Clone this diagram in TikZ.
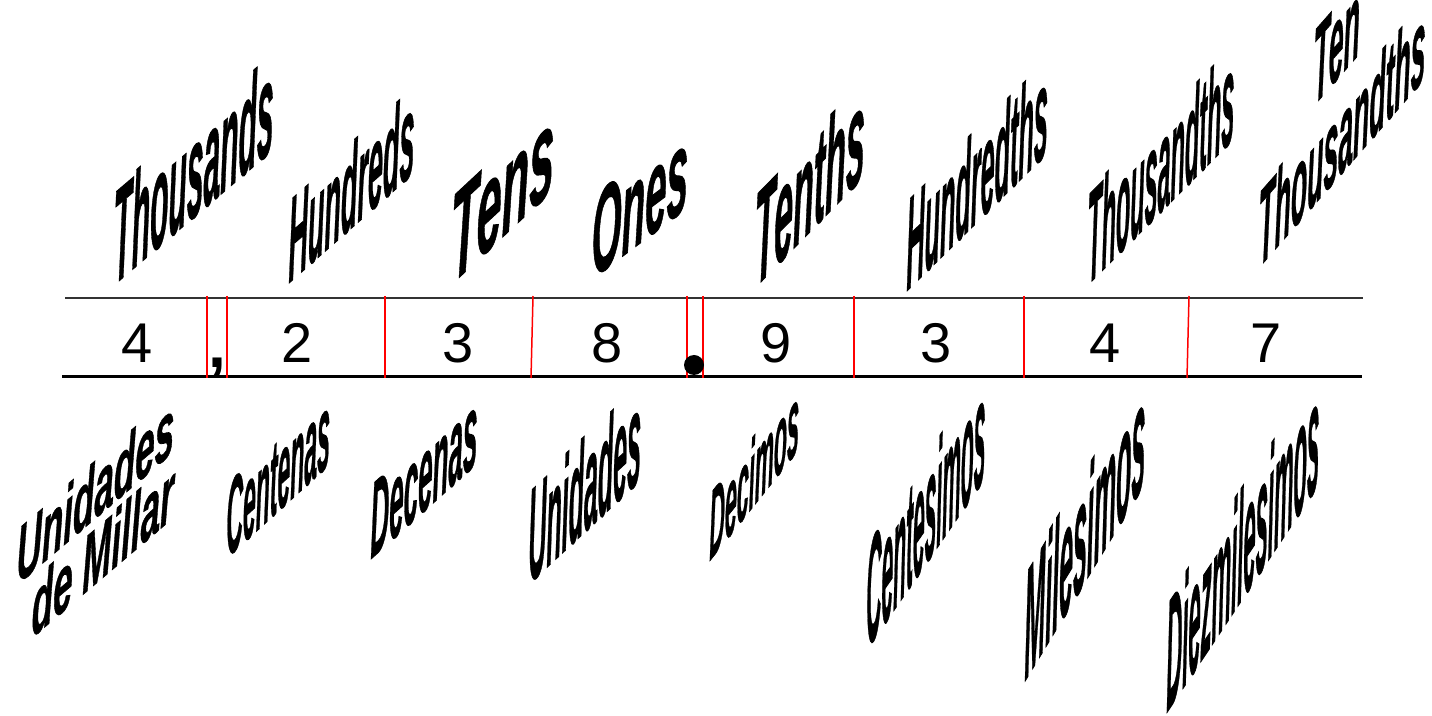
\documentclass[tikz,border=0pt]{standalone}
\usepackage{fontspec}
\setmainfont{Liberation Sans}
\newfontfamily\wordfont[FakeBold=1]{Liberation Sans}

\begin{document}
\begin{tikzpicture}[x=1pt,y=1pt,digit/.style={font=\fontsize{56}{60}\selectfont, inner sep=0pt, anchor=base},place/.style={font=\fontsize{10}{12}\wordfont\bfseries\itshape, inner sep=0pt, anchor=base west, transform shape},divider/.style={red, line width=1.5pt}]
\newcommand{\word}[6]{\begin{scope}[shift={#1},yslant=#2,xscale=#3,yscale=#4]\node[place] (#5) at (0,0) {#6};\end{scope}}
\useasboundingbox (0,0) rectangle (1432,715);
\draw[black!80, line width=1.3pt] (65,417) -- (1363,417);
\draw[line width=3pt] (62,338) -- (1362,338);
\foreach \x in {207,227,385,687,703,854,1024}\draw[divider] (\x,419) -- (\x,337);
\draw[divider] (533,419) -- (531,337);
\draw[divider] (1189,419) -- (1187,337);
\foreach \d/\x [count=\i] in {4/137,2/297,3/458,8/607,9/776,3/936,4/1105,7/1266}\node[digit] (d\i) at (\x,352) {\d};
\node[font=\fontsize{64}{64}\selectfont\bfseries, inner sep=0pt, anchor=base] (comma) at (217,347) {,};
\fill (694,350) circle (10) coordinate (point);
\word{(113,429)}{0.85}{3.0}{13.3}{thousands}{Thousands}
\word{(288,431)}{0.88}{2.7}{11.9}{hundreds}{Hundreds}
\word{(450,429)}{0.93}{4.5}{12.6}{tens}{Tens}
\word{(591,435)}{0.75}{3.85}{11.9}{ones}{Ones}
\word{(754,426)}{1.02}{3.4}{13.3}{tenths}{Tenths}
\word{(906,423)}{0.98}{2.52}{13}{hundredths}{Hundredths}
\word{(1087,429)}{1.0}{2.34}{13}{thousandths}{Thousandths}
\begin{scope}[shift={(1258,446)},yslant=1.14,xscale=2.66,yscale=10.8]
\node[place] (tenthousandths) at (0,0) {Thousandths};
\node[place, anchor=base] (ten) at (29.6,9.2) {Ten};
\end{scope}
\begin{scope}[shift={(16,129)},yslant=0.85,xscale=3.5,yscale=8]
\node[place] (unidadesmil) at (0,0) {Unidades};
\node[place, anchor=base] (demillar) at (24.8,-8.2) {de Millar};
\end{scope}
\word{(226,156)}{0.91}{2.3}{10.7}{centenas}{Centenas}
\word{(370,155)}{0.9}{2.6}{10.7}{decenas}{Decenas}
\word{(528,130)}{0.93}{2.5}{13.3}{unidades}{Unidades}
\word{(709,153)}{1.25}{2.15}{9.7}{decimos}{Decimos}
\word{(866,64)}{1.45}{2.1}{15}{centesimos}{Centesimos}
\word{(1024,32)}{1.65}{2.5}{15.4}{milesimos}{Milesimos}
\word{(1166,1)}{1.5}{2.2}{15.6}{diezmilesimos}{Diezmilesimos}
\end{tikzpicture}
\end{document}
